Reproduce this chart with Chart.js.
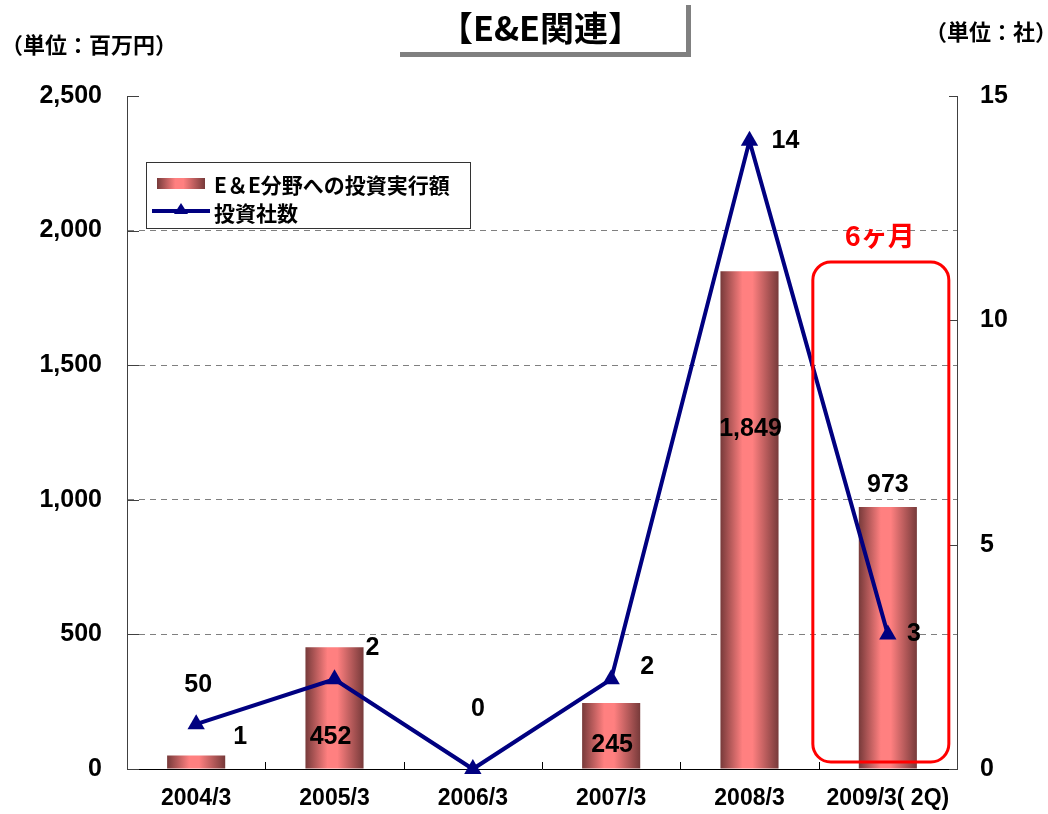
<!DOCTYPE html>
<html>
<head>
<meta charset="utf-8">
<script src="https://cdn.jsdelivr.net/npm/chart.js@4/dist/chart.umd.min.js"></script>
<style>
    body { margin: 0; background: #fff; }
    #wrap { position: relative; width: 1048px; height: 814px; overflow: hidden; }
    .jp { position: absolute; font-family: "Noto Sans CJK JP", sans-serif; font-weight: bold; color: #000; white-space: nowrap; }
    #title-box { left: 395px; top: 0; width: 291px; height: 52px; background: #fff;
        box-shadow: 5px 5px 0 #808080; text-align: center; line-height: 54px; font-size: 34px; }
    #unit-left { left: 1px; top: 28px; font-size: 22px; line-height: 30px; }
    #unit-right { right: -9px; top: 15px; font-size: 22px; line-height: 30px; }
</style>
</head>
<body>
<div id="wrap">
    <canvas id="chart" width="1048" height="814"></canvas>
    <div id="title-box" class="jp">【E&amp;E関連】</div>
    <div id="unit-left" class="jp">（単位：百万円）</div>
    <div id="unit-right" class="jp">（単位：社）</div>
</div>
<script>
// データ
const years = ["2004/3", "2005/3", "2006/3", "2007/3", "2008/3", "2009/3(2Q)"];
const investAmount = [50, 452, 0, 245, 1849, 973];   // 百万円
const companyCount = [1, 2, 0, 2, 14, 3];             // 社
const amountTicks = [0, 500, 1000, 1500, 2000, 2500];
const countTicks = [0, 5, 10, 15];

const numFamily = "'Liberation Sans', Arial, sans-serif";
const jpFamily = "'Noto Sans CJK JP', sans-serif";

// ラベル位置の調整 (px)
const barLabelOffset = [[2, -70], [-4, 90], [5, -60], [1, 42], [1, 158], [0, -22]];
const lineLabelOffset = [[44, 13], [38, -31], null, [36, -12], [36, 0], [26, 0]];

function barGradient(ctx, x, w) {
    let g = ctx.createLinearGradient(x - w / 2, 0, x + w / 2, 0);
    g.addColorStop(0, "#773a3a");
    g.addColorStop(0.38, "#ff8080");
    g.addColorStop(0.55, "#ff8080");
    g.addColorStop(1, "#773a3a");
    return g;
}

const customDraw = {
    id: "customDraw",
    beforeDatasetsDraw(chart) {
        const ctx = chart.ctx;
        const area = chart.chartArea;
        const xs = chart.scales.x;
        ctx.save();
        ctx.strokeStyle = "#000";
        ctx.lineWidth = 1;
        // x軸の目盛り (内向き)
        for (let i = 1; i < years.length; i++) {
            let px = Math.round((xs.getPixelForValue(i - 1) + xs.getPixelForValue(i)) / 2) + 0.5;
            ctx.beginPath();
            ctx.moveTo(px, area.bottom);
            ctx.lineTo(px, area.bottom - 7);
            ctx.stroke();
        }
        // y軸の目盛り (内向き)
        ctx.strokeStyle = "#404040";
        amountTicks.forEach(v => {
            let py = Math.round(chart.scales.y.getPixelForValue(v)) + 0.5;
            ctx.beginPath();
            ctx.moveTo(area.left, py);
            ctx.lineTo(area.left + 12, py);
            ctx.stroke();
        });
        countTicks.forEach(v => {
            let py = Math.round(chart.scales.y2.getPixelForValue(v)) + 0.5;
            ctx.beginPath();
            ctx.moveTo(area.right, py);
            ctx.lineTo(area.right - 8, py);
            ctx.stroke();
        });
        ctx.restore();
    },
    afterDatasetsDraw(chart) {
        const ctx = chart.ctx;
        const xs = chart.scales.x;
        const ys = chart.scales.y;
        const y2 = chart.scales.y2;
        ctx.save();
        ctx.font = "bold 25px " + numFamily;
        ctx.fillStyle = "#000";
        ctx.textAlign = "center";
        ctx.textBaseline = "middle";
        investAmount.forEach((v, i) => {
            let px = xs.getPixelForValue(i) + barLabelOffset[i][0];
            let py = ys.getPixelForValue(v) + barLabelOffset[i][1];
            ctx.fillText(v.toLocaleString("en-US"), px, py);
        });
        companyCount.forEach((v, i) => {
            if (!lineLabelOffset[i]) return;
            let px = xs.getPixelForValue(i) + lineLabelOffset[i][0];
            let py = y2.getPixelForValue(v) + lineLabelOffset[i][1];
            ctx.fillText(String(v), px, py);
        });

        // 6ヶ月 の枠
        let cx = xs.getPixelForValue(5);
        let top = ys.getPixelForValue(1883);
        let bot = chart.chartArea.bottom - 7;
        ctx.strokeStyle = "#ff0000";
        ctx.lineWidth = 3;
        ctx.beginPath();
        ctx.roundRect(cx - 75, top, 136, bot - top, 18);
        ctx.stroke();
        ctx.fillStyle = "#ff0000";
        ctx.font = "bold 27px " + jpFamily;
        ctx.fillText("6ヶ月", cx - 8, top - 26);

        // 凡例
        const lx = 146, ly = 162, lw = 324, lh = 66;
        ctx.fillStyle = "#fff";
        ctx.fillRect(lx, ly, lw, lh);
        ctx.strokeStyle = "#333";
        ctx.lineWidth = 1;
        ctx.strokeRect(lx + 0.5, ly + 0.5, lw, lh);
        ctx.fillStyle = barGradient(ctx, 181, 48);
        ctx.fillRect(157, 178, 48, 11);
        ctx.strokeStyle = "#000080";
        ctx.lineWidth = 4;
        ctx.beginPath();
        ctx.moveTo(152, 211);
        ctx.lineTo(210, 211);
        ctx.stroke();
        ctx.fillStyle = "#000080";
        ctx.beginPath();
        ctx.moveTo(181, 203);
        ctx.lineTo(188, 214);
        ctx.lineTo(174, 214);
        ctx.closePath();
        ctx.fill();
        ctx.fillStyle = "#000";
        ctx.textAlign = "left";
        ctx.font = "bold 21px " + jpFamily;
        ctx.fillText(chart.data.datasets[0].label, 214, 185);
        ctx.fillText(chart.data.datasets[1].label, 214, 213);
        ctx.restore();
    }
};

new Chart(document.getElementById("chart"), {
    data: {
        labels: years,
        datasets: [
            {
                type: "bar",
                label: "E＆E分野への投資実行額",
                data: investAmount,
                yAxisID: "y",
                backgroundColor: c => {
                    const xs = c.chart.scales.x;
                    if (!xs || !xs.width) return "#ff8080";
                    const w = xs.width / years.length * 0.42;
                    return barGradient(c.chart.ctx, xs.getPixelForValue(c.dataIndex), w);
                },
                barPercentage: 0.42,
                categoryPercentage: 1,
                order: 1
            },
            {
                type: "line",
                label: "投資社数",
                data: companyCount,
                yAxisID: "y2",
                borderColor: "#000080",
                backgroundColor: "#000080",
                borderWidth: 4,
                pointStyle: "triangle",
                pointRadius: 10,
                pointBorderWidth: 0,
                tension: 0,
                clip: false,
                order: 0
            }
        ]
    },
    options: {
        responsive: false,
        animation: false,
        locale: "en-US",
        layout: { padding: { top: 96, left: 0, right: 0, bottom: 0 } },
        plugins: { legend: { display: false }, tooltip: { enabled: false } },
        scales: {
            x: {
                afterFit(scale) { scale.height = 45; },
                grid: { display: false },
                border: { color: "#000", width: 1 },
                ticks: {
                    color: "#000",
                    padding: 8,
                    font: { family: numFamily, size: 23, weight: "bold" },
                    callback: (v, i) => years[i].replace("(", "( ")
                }
            },
            y: {
                position: "left",
                min: 0,
                max: 2500,
                afterFit(scale) { scale.width = 127; },
                afterBuildTicks(scale) { scale.ticks = amountTicks.map(v => ({ value: v })); },
                border: { color: "#404040", width: 1, dash: [6, 5] },
                grid: {
                    color: c => (c.tick && (c.tick.value === 0 || c.tick.value === 2500)) ? "rgba(0,0,0,0)" : "#7f7f7f",
                    tickLength: 0,
                    lineWidth: 1
                },
                ticks: {
                    color: "#000",
                    padding: 25,
                    font: { family: numFamily, size: 25, weight: "bold" }
                }
            },
            y2: {
                position: "right",
                min: 0,
                max: 15,
                afterFit(scale) { scale.width = 91; },
                afterBuildTicks(scale) { scale.ticks = countTicks.map(v => ({ value: v })); },
                border: { color: "#404040", width: 1 },
                grid: { drawOnChartArea: false, tickLength: 0 },
                ticks: {
                    color: "#000",
                    padding: 23,
                    font: { family: numFamily, size: 25, weight: "bold" }
                }
            }
        }
    },
    plugins: [customDraw]
});
</script>
</body>
</html>
